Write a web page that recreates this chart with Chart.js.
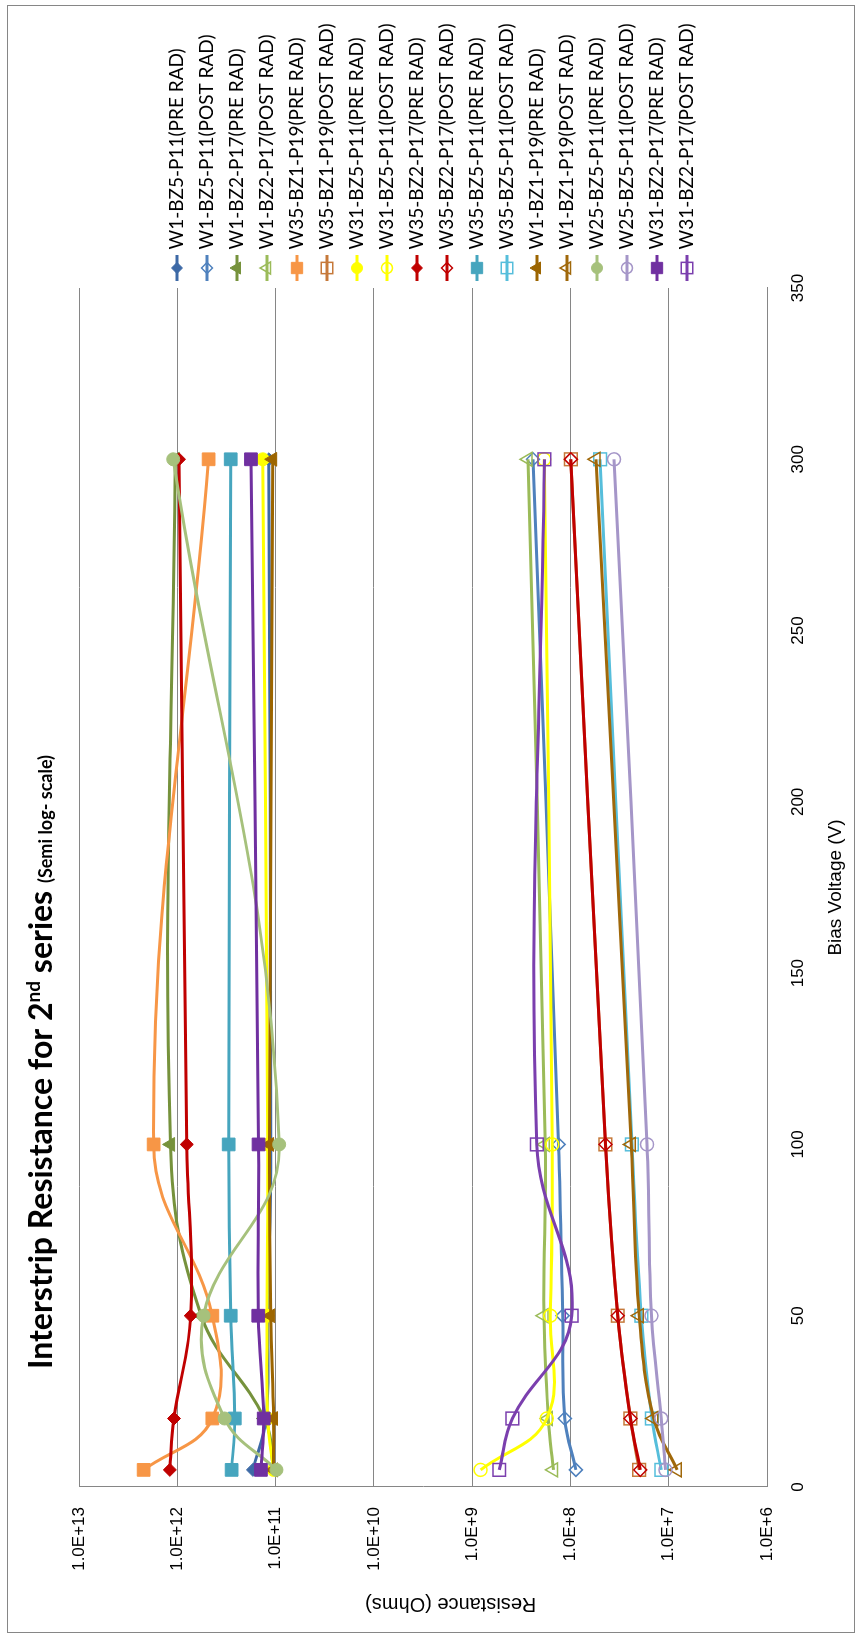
<!DOCTYPE html>
<html>
<head>
<meta charset="utf-8">
<script src="https://cdn.jsdelivr.net/npm/chart.js@4/dist/chart.umd.min.js"></script>
<style>
  html, body { margin: 0; padding: 0; background: #fff; overflow: hidden; }
  #wrap { position: relative; width: 861px; height: 1639px; overflow: hidden; }
  /* the chart is drawn landscape, then turned a quarter to the left */
  #chart { position: absolute; left: 0; top: 0; transform-origin: 0 0; transform: translateY(1639px) rotate(-90deg); }
</style>
</head>
<body>
<div id="wrap"><canvas id="chart" width="1639" height="861"></canvas></div>
<script>
const biasVoltage = [5, 20, 50, 100, 300];
const voltageTicks = [0, 50, 100, 150, 200, 250, 300, 350];
const resistanceTicks = [1e6, 1e7, 1e8, 1e9, 1e10, 1e11, 1e12, 1e13];

const seriesLabels = [
    'W1-BZ5-P11(PRE RAD)', 'W1-BZ5-P11(POST RAD)',
    'W1-BZ2-P17(PRE RAD)', 'W1-BZ2-P17(POST RAD)',
    'W35-BZ1-P19(PRE RAD)', 'W35-BZ1-P19(POST RAD)',
    'W31-BZ5-P11(PRE RAD)', 'W31-BZ5-P11(POST RAD)',
    'W35-BZ2-P17(PRE RAD)', 'W35-BZ2-P17(POST RAD)',
    'W35-BZ5-P11(PRE RAD)', 'W35-BZ5-P11(POST RAD)',
    'W1-BZ1-P19(PRE RAD)', 'W1-BZ1-P19(POST RAD)',
    'W25-BZ5-P11(PRE RAD)', 'W25-BZ5-P11(POST RAD)',
    'W31-BZ2-P17(PRE RAD)', 'W31-BZ2-P17(POST RAD)'
];

// resistance in ohms at each bias voltage
const w1Bz5P11Pre = [1.7e11, 1.25e11, 1.2e11, 1.12e11, 1.17e11];
const w1Bz5P11Post = [8.8e7, 1.14e8, 1.2e8, 1.32e8, 2.4e8];
const w1Bz2P17Pre = [1.05e11, 1.3e11, 5.7e11, 1.17e12, 1.05e12];
const w1Bz2P17Post = [1.49e8, 1.68e8, 1.86e8, 1.8e8, 2.7e8];
const w35Bz1P19Pre = [2.2e12, 4.4e11, 4.4e11, 1.74e12, 4.8e11];
const w35Bz1P19Post = [2.0e7, 2.45e7, 3.3e7, 4.4e7, 9.9e7];
const w31Bz5P11Pre = [1.05e11, 1.2e11, 1.22e11, 1.2e11, 1.35e11];
const w31Bz5P11Post = [8.2e8, 1.74e8, 1.6e8, 1.53e8, 1.85e8];
const w35Bz2P17Pre = [1.19e12, 1.08e12, 7.3e11, 8.0e11, 9.6e11];
const w35Bz2P17Post = [1.95e7, 2.45e7, 3.3e7, 4.4e7, 9.9e7];
const w35Bz5P11Pre = [2.8e11, 2.6e11, 2.86e11, 3.0e11, 2.86e11];
const w35Bz5P11Post = [1.19e7, 1.48e7, 1.9e7, 2.37e7, 5.0e7];
const w1Bz1P19Pre = [1.05e11, 1.05e11, 1.12e11, 1.15e11, 1.07e11];
const w1Bz1P19Post = [8.2e6, 1.42e7, 2.0e7, 2.4e7, 5.5e7];
const w25Bz5P11Pre = [9.8e10, 3.3e11, 5.4e11, 9.2e10, 1.1e12];
const w25Bz5P11Post = [1.08e7, 1.19e7, 1.5e7, 1.66e7, 3.6e7];
const w31Bz2P17Pre = [1.41e11, 1.32e11, 1.5e11, 1.49e11, 1.78e11];
const w31Bz2P17Post = [5.3e8, 3.9e8, 9.7e7, 2.2e8, 1.84e8];

const seriesValues = [
    w1Bz5P11Pre, w1Bz5P11Post, w1Bz2P17Pre, w1Bz2P17Post,
    w35Bz1P19Pre, w35Bz1P19Post, w31Bz5P11Pre, w31Bz5P11Post,
    w35Bz2P17Pre, w35Bz2P17Post, w35Bz5P11Pre, w35Bz5P11Post,
    w1Bz1P19Pre, w1Bz1P19Post, w25Bz5P11Pre, w25Bz5P11Post,
    w31Bz2P17Pre, w31Bz2P17Post
];

const colors = [
    '#3D69A6', '#4F81BD', '#76923C', '#9BBB59', '#F79646', '#C6793A',
    '#FFFF00', '#FFFF00', '#C00000', '#C00000', '#46A5BE', '#56BEDB',
    '#9C6500', '#A0680A', '#A6C17C', '#A596C8', '#7030A0', '#7B3FAE'
];
const markers = [
    'rectRot', 'rectRot', 'triangle', 'triangle', 'rect', 'rect',
    'circle', 'circle', 'rectRot', 'rectRot', 'rect', 'rect',
    'triangle', 'triangle', 'circle', 'circle', 'rect', 'rect'
];
const markerSize = { rect: 9, rectRot: 6.5, circle: 6.5, triangle: 8 };

const isFilled = (i) => i % 2 === 0;

const legendFont = { family: 'Lato', size: 19 };
const legendPad = 11;
const legendBox = 18;

const makeIcon = function (i) {
    const c = document.createElement('canvas');
    c.width = 26;
    c.height = 18;
    const g = c.getContext('2d');
    g.strokeStyle = colors[i];
    g.lineWidth = 3;
    g.beginPath();
    g.moveTo(0, 9);
    g.lineTo(26, 9);
    g.stroke();
    g.fillStyle = isFilled(i) ? colors[i] : 'rgba(0,0,0,0)';
    g.lineWidth = isFilled(i) ? 1 : 1.5;
    Chart.helpers.drawPoint(g, {
        pointStyle: markers[i],
        radius: markerSize[markers[i]] - 1,
        borderWidth: g.lineWidth,
        rotation: 0
    }, 13, 9);
    return c;
};

// legend width as Chart.js works it out, so the plot keeps its right edge
const measureLegend = function () {
    const g = document.createElement('canvas').getContext('2d');
    g.font = legendFont.size + 'px ' + legendFont.family;
    const longest = Math.max(...seriesLabels.map(t => g.measureText(t).width));
    return legendPad + legendBox + legendFont.size / 2 + longest + 10;
};
const plotRight = 1351;
const rightPad = Math.max(0, 1639 - plotRight - measureLegend());

const datasets = seriesLabels.map((label, i) => ({
    label: label,
    data: biasVoltage.map((v, j) => ({ x: v, y: seriesValues[i][j] })),
    borderColor: colors[i],
    backgroundColor: colors[i],
    borderWidth: 3,
    tension: 0.4,
    pointStyle: markers[i],
    pointRadius: markerSize[markers[i]],
    pointBackgroundColor: isFilled(i) ? colors[i] : 'rgba(0,0,0,0)',
    pointBorderColor: colors[i],
    pointBorderWidth: isFilled(i) ? 1 : 1.5,
    order: seriesLabels.length - i
}));

const icons = seriesLabels.map((l, i) => makeIcon(i));

const frame = {
    id: 'frame',
    beforeDraw(chart) {
        const ctx = chart.ctx;
        ctx.save();
        ctx.fillStyle = '#fff';
        ctx.fillRect(0, 0, chart.width, chart.height);
        ctx.strokeStyle = '#868686';
        ctx.lineWidth = 1;
        ctx.strokeRect(6.5, 7.5, 1627, 847);
        ctx.restore();
    }
};

const chartTitle = {
    id: 'chartTitle',
    afterDraw(chart) {
        const ctx = chart.ctx;
        const parts = [
            { t: 'Interstrip Resistance for 2', f: 'bold 32px Lato', dy: 0 },
            { t: 'nd', f: 'bold 19px Lato', dy: -12 },
            { t: ' series ', f: 'bold 32px Lato', dy: 0 },
            { t: '(Semi log- scale)', f: 'bold 18px Lato', dy: 0 }
        ];
        let x = 270;
        ctx.save();
        ctx.fillStyle = '#000';
        ctx.textBaseline = 'alphabetic';
        ctx.textAlign = 'left';
        parts.forEach(p => {
            ctx.font = p.f;
            ctx.fillText(p.t, x, 52 + p.dy);
            x += ctx.measureText(p.t).width;
        });
        ctx.restore();
    }
};

new Chart(document.getElementById('chart'), {
    type: 'line',
    data: { datasets: datasets },
    options: {
        responsive: false,
        animation: false,
        events: [],
        layout: { padding: { left: 10, top: 79, right: rightPad, bottom: 8 } },
        scales: {
            x: {
                type: 'linear',
                min: 0,
                max: 350,
                afterBuildTicks: (scale) => { scale.ticks = voltageTicks.map(v => ({ value: v })); },
                afterFit: (scale) => { scale.height = 86; },
                grid: { display: false, drawTicks: false },
                border: { display: true, color: '#868686', width: 1 },
                ticks: { padding: 21, color: '#000', font: { family: 'Liberation Sans', size: 17 } },
                title: {
                    display: true,
                    text: 'Bias Voltage (V)',
                    color: '#000',
                    font: { family: 'Liberation Sans', size: 19 },
                    padding: { top: 0, bottom: 6 }
                }
            },
            y: {
                type: 'logarithmic',
                min: 1e6,
                max: 1e13,
                afterBuildTicks: (scale) => { scale.ticks = resistanceTicks.map(v => ({ value: v })); },
                afterFit: (scale) => { scale.width = 142; },
                grid: { color: '#868686', lineWidth: 1, drawTicks: false },
                border: { display: true, color: '#868686', width: 1 },
                ticks: {
                    padding: 20,
                    color: '#000',
                    font: { family: 'Liberation Sans', size: 17 },
                    callback: (v) => Number(v).toExponential(1).toUpperCase()
                },
                title: {
                    display: true,
                    // trailing blanks push the centred text a little off the middle, as in the original
                    text: 'Resistance (Ohms)' + '\u00a0'.repeat(10),
                    color: '#000',
                    font: { family: 'Liberation Sans', size: 20 },
                    padding: { top: 13, bottom: 0 }
                }
            }
        },
        plugins: {
            tooltip: { enabled: false },
            legend: {
                position: 'right',
                fullSize: false,
                title: { display: true, text: ' ', font: { size: 15 }, padding: 0 },
                labels: {
                    usePointStyle: true,
                    pointStyleWidth: legendBox,
                    padding: legendPad,
                    color: '#000',
                    font: legendFont,
                    generateLabels: (chart) => chart.data.datasets.map((ds, i) => ({
                        text: ds.label,
                        pointStyle: icons[i],
                        fillStyle: colors[i],
                        strokeStyle: colors[i],
                        fontColor: '#000',
                        lineWidth: 0,
                        hidden: false,
                        datasetIndex: i
                    }))
                }
            }
        }
    },
    plugins: [frame, chartTitle]
});
</script>
</body>
</html>
